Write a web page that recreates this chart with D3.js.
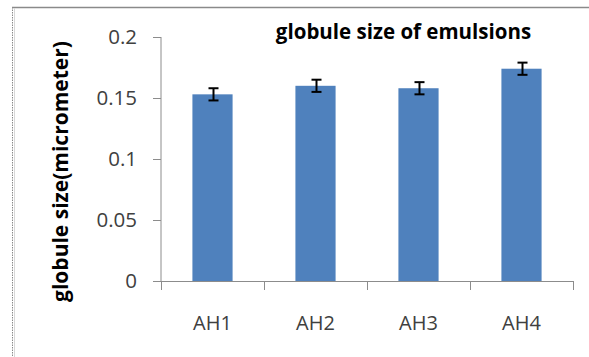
<!DOCTYPE html>
<html>
<head>
<meta charset="utf-8">
<script src="https://cdnjs.cloudflare.com/ajax/libs/d3/7.8.5/d3.min.js"></script>
<style>
  html, body { margin: 0; padding: 0; background: #fff; }
  svg { display: block; }
</style>
</head>
<body>
<svg id="chart" width="589" height="357"></svg>
<script>
const categories = ["AH1", "AH2", "AH3", "AH4"];
const values = [0.153, 0.160, 0.158, 0.174];
const errors = [0.005, 0.005, 0.005, 0.005];
const yTicks = [0, 0.05, 0.1, 0.15, 0.2];
const yTickLabels = ["0", "0.05", "0.1", "0.15", "0.2"];
const title = "globule size of emulsions";
const yTitle = "globule size(micrometer)";

(function () {
const svg = d3.select("#chart");
const fontFam = "'Open Sans', 'DejaVu Sans', sans-serif";

// outer frame
svg.append("line").attr("x1", 12).attr("x2", 589).attr("y1", 7.5).attr("y2", 7.5)
  .attr("stroke", "#8a8a8a").attr("stroke-width", 1.5);
svg.append("line").attr("x1", 12.5).attr("x2", 12.5).attr("y1", 7).attr("y2", 357)
  .attr("stroke", "#8a8a8a").attr("stroke-width", 1).attr("stroke-dasharray", "1.5,1");
svg.append("line").attr("x1", 14.5).attr("x2", 14.5).attr("y1", 8).attr("y2", 357)
  .attr("stroke", "#d8d8d8").attr("stroke-width", 1);

const pLeft = 161, pRight = 573, pTop = 37, pBottom = 281;

const x = d3.scaleBand().domain(categories).range([pLeft, pRight])
  .paddingInner(0.61).paddingOuter(0.305);
const y = d3.scaleLinear().domain([0, 0.2]).range([pBottom, pTop]);

// y axis
const yAxis = d3.axisLeft(y).tickValues(yTicks)
  .tickFormat((d, i) => yTickLabels[i]).tickSize(8).tickPadding(16);
const gy = svg.append("g").attr("transform", `translate(${pLeft},0)`).call(yAxis);
gy.select(".domain").attr("stroke", "#8c8c8c").attr("d", `M0,${pTop}V${pBottom}`);
gy.selectAll(".tick line").attr("stroke", "#8c8c8c");
gy.selectAll(".tick text").attr("fill", "#404040")
  .style("font-family", fontFam).style("font-size", "20.5px");

// x axis
const xLine = d3.scaleLinear().domain([0, categories.length]).range([pLeft, pRight]);
svg.append("line").attr("x1", pLeft).attr("x2", pRight).attr("y1", pBottom + 0.5).attr("y2", pBottom + 0.5)
  .attr("stroke", "#8c8c8c");
svg.selectAll(".xtick").data(d3.range(categories.length + 1)).enter().append("line")
  .attr("x1", d => Math.round(xLine(d)) + 0.5).attr("x2", d => Math.round(xLine(d)) + 0.5)
  .attr("y1", pBottom).attr("y2", pBottom + 9).attr("stroke", "#8c8c8c");
svg.selectAll(".xlab").data(categories).enter().append("text")
  .attr("x", d => x(d) + x.bandwidth() / 2).attr("y", 330)
  .attr("text-anchor", "middle").attr("fill", "#404040")
  .style("font-family", fontFam).style("font-size", "20px").text(d => d);

// bars
svg.selectAll(".bar").data(values).enter().append("rect")
  .attr("x", (d, i) => x(categories[i])).attr("width", x.bandwidth())
  .attr("y", d => y(d)).attr("height", d => y(0) - y(d))
  .attr("fill", "#4F81BD");

// error bars
const cx = i => x(categories[i]) + x.bandwidth() / 2 + 1;
const eb = svg.selectAll(".err").data(values).enter().append("g")
  .attr("stroke", "#000").attr("stroke-width", 2);
eb.append("line")
  .attr("x1", (d, i) => cx(i)).attr("x2", (d, i) => cx(i))
  .attr("y1", (d, i) => y(d + errors[i])).attr("y2", (d, i) => y(d - errors[i]));
eb.append("line")
  .attr("x1", (d, i) => cx(i) - 5).attr("x2", (d, i) => cx(i) + 5)
  .attr("y1", (d, i) => y(d + errors[i])).attr("y2", (d, i) => y(d + errors[i]));
eb.append("line")
  .attr("x1", (d, i) => cx(i) - 5).attr("x2", (d, i) => cx(i) + 5)
  .attr("y1", (d, i) => y(d - errors[i])).attr("y2", (d, i) => y(d - errors[i]));

// title
svg.append("text").attr("x", 403.5).attr("y", 39).attr("text-anchor", "middle")
  .attr("fill", "#000").style("font-family", fontFam).style("font-weight", "bold")
  .style("font-size", "20.5px").text(title);

// y title
svg.append("text").attr("transform", `translate(68,171.5) rotate(-90)`)
  .attr("text-anchor", "middle").attr("fill", "#000")
  .style("font-family", fontFam).style("font-weight", "bold")
  .style("font-size", "21px").text(yTitle);
})();
</script>
</body>
</html>
